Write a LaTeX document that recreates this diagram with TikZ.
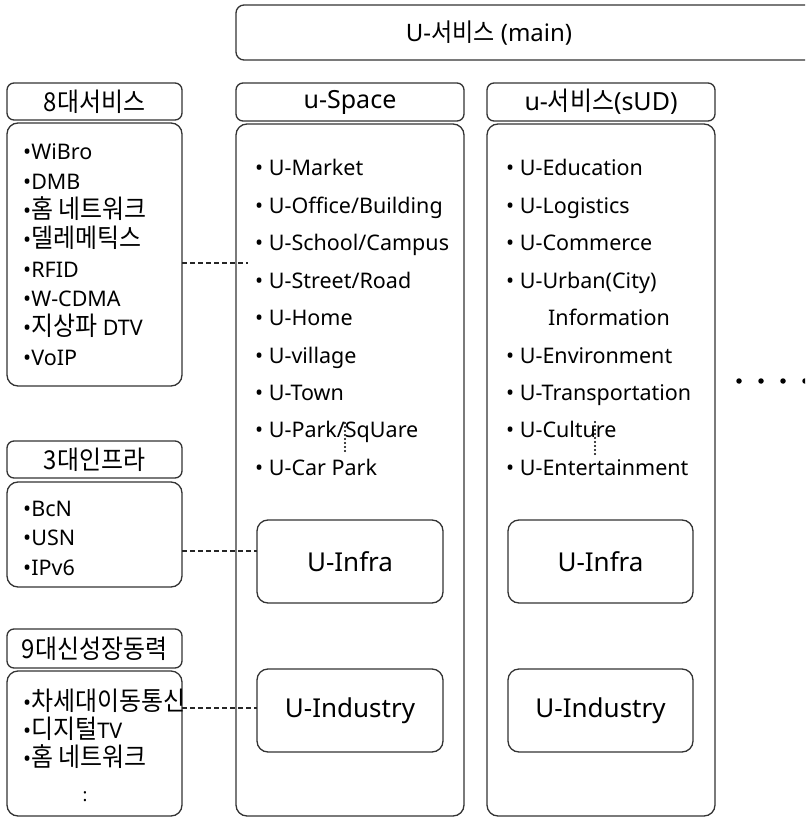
\documentclass[tikz,border=0pt]{standalone}
\usepackage{fontspec}
\setmainfont{Noto Sans}
\newfontfamily\kr[FakeStretch=0.92]{Noto Sans CJK KR}
\newcommand\K[1]{{\fontsize{26}{30}\selectfont\kr #1}}
\begin{document}
\begin{tikzpicture}[x=1pt,y=-1pt,
  box/.style={draw=black!80,line width=1.3pt,rounded corners=11pt,fill=white,inner sep=0pt,outer sep=0pt},
  hbox/.style={box,rounded corners=7pt,font=\fontsize{25}{30}\selectfont},
  item/.style={anchor=base west,inner sep=0pt,font=\fontsize{21.5}{26}\selectfont},
  big/.style={font=\fontsize{26}{31}\selectfont},
  dline/.style={draw=black!85,line width=1.2pt,dash pattern=on 5pt off 3pt},
  dotline/.style={draw=black,line width=2.3pt,line cap=round,dash pattern=on 0pt off 4pt},
  bigdot/.style={circle,fill=black,inner sep=0pt,minimum size=5.5pt}]
\useasboundingbox (0,0) rectangle (805,818);
\clip (0,0) rectangle (805,818);
\fill[white] (0,0) rectangle (805,818);

% top box
\node[box,rounded corners=8pt,minimum width=594pt,minimum height=55pt] (main) at (533,32.5) {};
\node[inner sep=0pt,font=\fontsize{24}{29}\selectfont] (maint) at (489,33) {U-{\fontsize{25}{29}\selectfont\kr 서비스} (main)};

% left column
\node[hbox,minimum width=175pt,minimum height=37pt] (h8) at (94.5,101.5) {\K{8대서비스}};
\node[box,minimum width=175pt,minimum height=263pt] (b8) at (94.5,254.5) {};
\node[hbox,minimum width=175pt,minimum height=37pt] (h3) at (94.5,459.5) {\K{3대인프라}};
\node[box,minimum width=175pt,minimum height=105pt] (b3) at (94.5,534.5) {};
\node[hbox,minimum width=175pt,minimum height=39pt] (h9) at (94.5,648.5) {\K{9대신성장동력}};
\node[box,minimum width=175pt,minimum height=145pt] (b9) at (94.5,743.5) {};

% u-Space column
\node[hbox,minimum width=228pt,minimum height=38pt] (hS) at (350,102) {u-Space};
\node[box,minimum width=228pt,minimum height=692pt] (bS) at (350,470) {};
% u-service column
\node[hbox,minimum width=228pt,minimum height=38pt] (hD) at (601,102) {u-\K{서비스}(sUD)};
\node[box,minimum width=228pt,minimum height=692pt] (bD) at (601,470) {};

% inner boxes
\node[box,big,minimum width=186pt,minimum height=83pt] (infraS) at (350,561.5) {U-Infra};
\node[box,big,minimum width=185pt,minimum height=83pt] (infraD) at (600.5,561.5) {U-Infra};
\node[box,big,minimum width=186pt,minimum height=83pt] (indS) at (350,710.5) {U-Industry};
\node[box,big,minimum width=185pt,minimum height=83pt] (indD) at (600.5,710.5) {U-Industry};

% 8 services items
\foreach \t [count=\i from 0] in {WiBro, DMB, \K{홈 네트워크}, \K{델레메틱스}, RFID, W-CDMA, {\K{지상파} DTV}, VoIP}
  \node[item] (a\i) at (23,160+29.3*\i) {\textbullet\t};
% 3 infra items
\foreach \t [count=\i from 0] in {BcN, USN, IPv6}
  \node[item] (c\i) at (23,516+29.5*\i) {\textbullet\t};
% 9 growth items
\foreach \t [count=\i from 0] in {\K{차세대이동통신}, {\K{디지털}TV}, \K{홈 네트워크}}
  \node[item] (g\i) at (23,710+28*\i) {\textbullet\t};
\node[inner sep=0pt,font=\fontsize{18}{20}\selectfont] (gmore) at (85,797) {:};

% u-Space items
\foreach \t [count=\i from 0] in {U-Market, U-Office/Building, U-School/Campus, U-Street/Road, U-Home, U-village, U-Town, U-Park/SqUare, U-Car Park}
  \node[item] (s\i) at (255,176+37.4*\i) {\textbullet\ \t};
% u-service items
\foreach \t/\j in {U-Education/0, U-Logistics/1, U-Commerce/2, U-Urban(City)/3, U-Environment/5, U-Transportation/6, U-Culture/7, U-Entertainment/8}
  \node[item] (u\j) at (506,176+37.4*\j) {\textbullet\ \t};
\node[item] (u4) at (548,176+37.4*4) {Information};

% dashed connectors
\coordinate (e1) at (248,263);
\draw[dline] (b8.east |- e1) -- (e1);
\coordinate (e2) at (0,551);
\draw[dline] (b3.east |- e2) -- (infraS.west |- e2);
\coordinate (e3) at (0,708);
\draw[dline] (b9.east |- e3) -- (indS.west |- e3);

% small dotted marks
\coordinate (v1a) at (345,423);
\coordinate (v1b) at (345,452);
\draw[dotline] (v1a) -- (v1b);
\coordinate (v2a) at (595,422);
\coordinate (v2b) at (595,455);
\draw[dotline] (v2a) -- (v2b);

% continuation dots
\foreach \k [count=\i] in {739,761,783,805}
  \node[bigdot] (dot\i) at (\k,381) {};
\end{tikzpicture}
\end{document}
